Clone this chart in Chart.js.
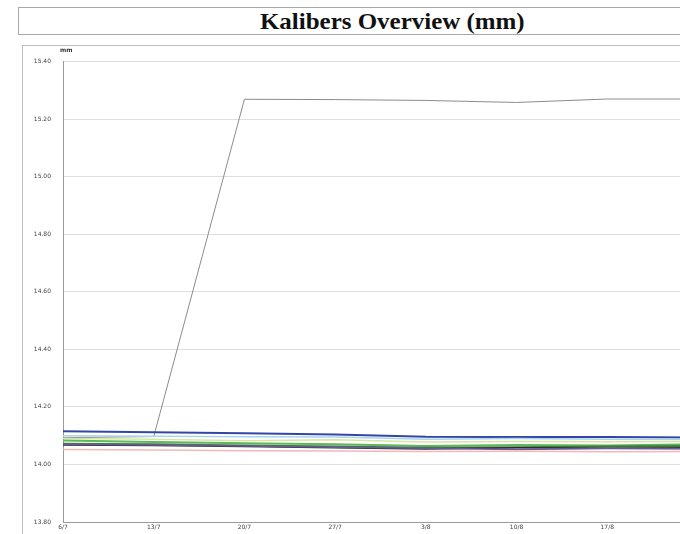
<!DOCTYPE html>
<html>
<head>
<meta charset="utf-8">
<script src="https://cdn.jsdelivr.net/npm/chart.js@4/dist/chart.umd.min.js"></script>
<style>
  html, body { margin: 0; padding: 0; background: #fff; overflow: hidden; width: 680px; height: 534px; }
  .title-box {
    position: absolute; left: 18px; top: 7px; width: 748px; height: 28px;
    border: 1px solid #a8a8a8; box-sizing: border-box;
    font-family: "Liberation Serif", serif; font-weight: bold; font-size: 24px;
    text-align: center; line-height: 26px; color: #111;
  }
  .title-box span { display: inline-block; transform: scaleX(1.04); }
  .chart-box {
    position: absolute; left: 22px; top: 45px; width: 720px; height: 500px;
    border: 1px solid #bdbdbd; box-sizing: border-box;
  }
</style>
</head>
<body>
<div class="title-box"><span>Kalibers Overview (mm)</span></div>
<div class="chart-box"><canvas class="kal-chart"></canvas></div>
<script>
const ctx = document.querySelector(".kal-chart");

// weekly measurements
const dates = ["6/7", "13/7", "20/7", "27/7", "3/8", "10/8", "17/8", "24/8"];
const yTicks = [13.8, 14.0, 14.2, 14.4, 14.6, 14.8, 15.0, 15.2, 15.4];

const kaliberGrey = [14.093, 14.097, 15.269, 15.268, 15.265, 15.258, 15.270, 15.270];
const kaliberBlue = [14.115, 14.112, 14.108, 14.104, 14.096, 14.095, 14.095, 14.094];
const kaliberLightBlue = [14.100, 14.098, 14.096, 14.095, 14.088, 14.090, 14.088, 14.087];
const kaliberYellow = [14.090, 14.088, 14.082, 14.086, 14.078, 14.080, 14.079, 14.080];
const kaliberGreen = [14.083, 14.078, 14.074, 14.070, 14.064, 14.068, 14.066, 14.070];
const kaliberDarkGreen = [14.072, 14.070, 14.066, 14.062, 14.058, 14.060, 14.062, 14.064];
const kaliberBlack = [14.068, 14.066, 14.062, 14.058, 14.054, 14.058, 14.056, 14.058];
const kaliberPurple = [14.070, 14.068, 14.064, 14.060, 14.056, 14.052, 14.055, 14.054];
const kaliberPink = [14.052, 14.050, 14.048, 14.047, 14.045, 14.046, 14.044, 14.045];

const topLabel = {
  id: "topLabel",
  afterDraw(chart) {
    const c = chart.ctx;
    c.save();
    c.font = "bold 6px 'DejaVu Sans'";
    c.fillStyle = "#333";
    c.textBaseline = "top";
    c.fillText("mm", chart.chartArea.left - 3, 1);
    c.restore();
  },
};

function line(label, data, color, width) {
  return {
    label: label,
    data: data,
    borderColor: color,
    backgroundColor: color,
    borderWidth: width,
    pointRadius: 0,
    tension: 0,
  };
}

new Chart(ctx, {
  type: "line",
  data: {
    labels: dates,
    datasets: [
      line("K9", kaliberPink, "#f2b8b8", 1.5),
      line("K8", kaliberPurple, "#6a5a9a", 1.5),
      line("K7", kaliberBlack, "#2b2b2b", 1.5),
      line("K6", kaliberDarkGreen, "#3f7a3a", 2),
      line("K5", kaliberGreen, "#5cb85c", 2),
      line("K4", kaliberYellow, "#d9e6a0", 1.5),
      line("K3", kaliberLightBlue, "#a9d4ec", 1.5),
      line("K2", kaliberBlue, "#3346a8", 2),
      line("K1", kaliberGrey, "#8c8c8c", 1),
    ],
  },
  options: {
    responsive: true,
    maintainAspectRatio: false,
    animation: false,
    layout: { padding: { top: 13, right: 43, left: 4, bottom: 0 } },
    scales: {
      x: {
        grid: { display: false, drawTicks: false },
        border: { display: true, color: "#9a9a9a" },
        ticks: {
          font: { size: 6, family: "DejaVu Sans" },
          color: "#444",
          maxRotation: 0,
          autoSkip: false,
          padding: 2,
        },
        afterFit(scale) { scale.height = 22; },
      },
      y: {
        min: yTicks[0],
        max: yTicks[yTicks.length - 1],
        afterBuildTicks(scale) {
          scale.ticks = yTicks.map((v) => ({ value: v }));
        },
        grid: { color: "#dedede", drawTicks: false },
        border: { display: true, color: "#9a9a9a" },
        ticks: {
          font: { size: 6, family: "DejaVu Sans" },
          color: "#444",
          padding: 12,
          callback: (v) => Number(v).toFixed(2),
        },
        afterFit(scale) { scale.width = 36; },
      },
    },
    plugins: {
      legend: { display: false },
      tooltip: { enabled: false },
    },
  },
  plugins: [topLabel],
});
</script>
</body>
</html>
